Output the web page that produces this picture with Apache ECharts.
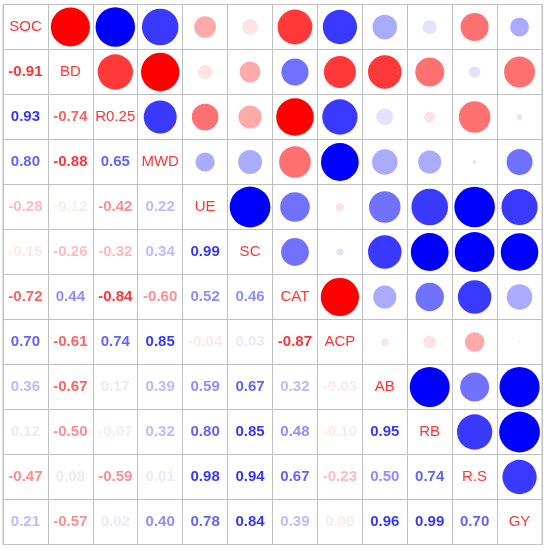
<!DOCTYPE html>
<html>
<head>
<meta charset="utf-8">
<script src="https://cdn.jsdelivr.net/npm/echarts@6/dist/echarts.min.js"></script>
<style>
html,body{margin:0;padding:0;background:#fff;}
#chart{width:546px;height:550px;}
</style>
</head>
<body>
<div id="chart"></div>
<script>
// Variable names (diagonal)
const vars = ['SOC','BD','R0.25','MWD','UE','SC','CAT','ACP','AB','RB','R.S','GY'];

// Lower-triangle correlation rows (row i, columns 0..i-1)
const rowSOC = [];
const rowBD  = [-0.91];
const rowR025 = [0.93, -0.74];
const rowMWD = [0.798, -0.88, 0.65];
const rowUE  = [-0.28, -0.12, -0.42, 0.22];
const rowSC  = [-0.15, -0.26, -0.32, 0.34, 0.99];
const rowCAT = [-0.72, 0.44, -0.84, -0.598, 0.52, 0.46];
const rowACP = [0.70, -0.61, 0.74, 0.85, -0.04, 0.03, -0.87];
const rowAB  = [0.36, -0.67, 0.17, 0.39, 0.59, 0.67, 0.32, -0.03];
const rowRB  = [0.12, -0.50, -0.07, 0.32, 0.798, 0.85, 0.48, -0.10, 0.95];
const rowRS  = [-0.47, 0.08, -0.59, 0.01, 0.98, 0.94, 0.67, -0.23, 0.50, 0.74];
const rowGY  = [0.21, -0.57, 0.02, 0.402, 0.78, 0.84, 0.39, -0.002, 0.96, 0.99, 0.70];

// 10-step red-white-blue palette (bins of 0.2 from -1 to 1)
const palette = ['#FF0000','#FF3939','#FF7171','#FFAAAA','#FFE3E3','#E3E3FF','#AAAAFF','#7171FF','#3939FF','#0000FF'];

const rows = [rowSOC,rowBD,rowR025,rowMWD,rowUE,rowSC,rowCAT,rowACP,rowAB,rowRB,rowRS,rowGY];

function colorOf(r){
  let k = Math.floor((r + 1) / 0.2);
  if (k < 0) k = 0; if (k > 9) k = 9;
  return palette[k];
}
function fmt(r){
  return Math.abs(r) < 0.005 ? '0.00' : r.toFixed(2);
}

const circleData = [], textData = [], diagData = [];
rows.forEach((row, i) => {
  row.forEach((r, j) => {
    textData.push({value:[j, i, r], label:{color: colorOf(r)}});
    circleData.push({value:[i, j, r], itemStyle:{color: colorOf(r)}});
  });
  diagData.push({value:[i, i], name: vars[i]});
});

const font = 'Liberation Sans, Arial, Helvetica, sans-serif';
const axisCommon = {
  type:'category',
  data: vars,
  axisLabel:{show:false},
  axisTick:{show:false},
  axisLine:{show:false},
  splitLine:{show:true, interval:0, lineStyle:{color:'#c0c0c0', width:1}}
};

const chart = echarts.init(document.getElementById('chart'));
chart.setOption({
  animation:false,
  backgroundColor:'#fff',
  grid:{left:3, top:4.5, width:539, height:540, show:true, borderColor:'#c0c0c0', borderWidth:1, backgroundColor:'transparent'},
  xAxis: Object.assign({}, axisCommon),
  yAxis: Object.assign({}, axisCommon, {inverse:true}),
  series:[
    {
      type:'scatter',
      silent:true,
      data: circleData,
      symbol:'circle',
      symbolSize: function(v){ return Math.sqrt(Math.abs(v[2])) * 41; },
      itemStyle:{opacity:1}
    },
    {
      type:'scatter',
      silent:true,
      data: textData,
      symbolSize:1,
      itemStyle:{color:'rgba(0,0,0,0)'},
      label:{
        show:true, position:'inside',
        fontFamily:font, fontSize:15, fontWeight:'bold',
        textBorderWidth:0, textBorderColor:'transparent',
        formatter: p => fmt(p.value[2])
      }
    },
    {
      type:'scatter',
      silent:true,
      data: diagData,
      symbolSize:1,
      itemStyle:{color:'rgba(0,0,0,0)'},
      label:{
        show:true, position:'inside',
        fontFamily:font, fontSize:15, fontWeight:'normal', color:'#FF0000',
        textBorderWidth:0, textBorderColor:'transparent',
        formatter: p => p.name
      }
    }
  ]
});
</script>
</body>
</html>
